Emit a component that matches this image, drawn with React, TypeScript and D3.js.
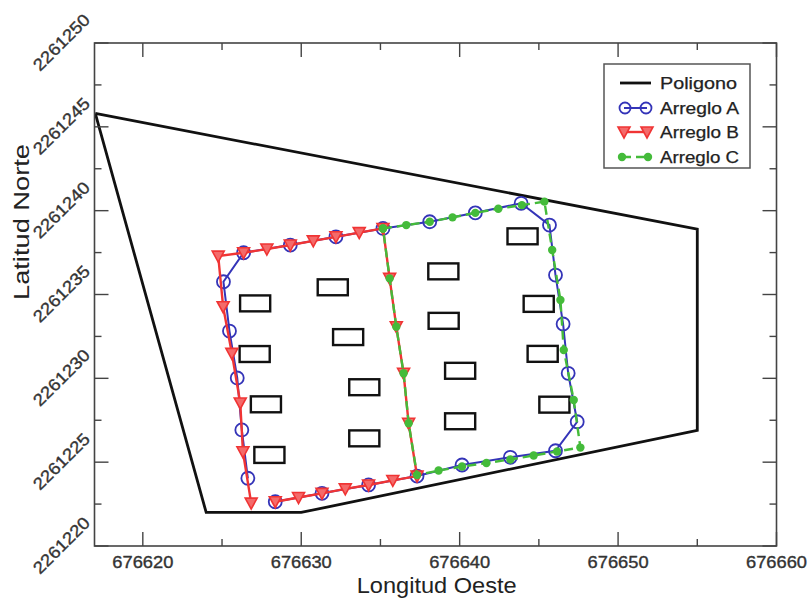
import React from "react";
import * as d3 from "d3";

const W = 809;
const H = 599;

const xDomain = [676616.95, 676660];
const yDomain = [2261220, 2261250];
const xMajorTicks = [676620, 676630, 676640, 676650, 676660];
const xMinorTicks = [676625, 676635, 676645, 676655];
const yMajorTicks = [2261220, 2261225, 2261230, 2261235, 2261240, 2261245, 2261250];
const yMinorTicks = [2261222.5, 2261227.5, 2261232.5, 2261237.5, 2261242.5, 2261247.5];

const polygonX = [676617, 676655, 676655, 676630, 676624, 676617];
const polygonY = [2261245.8, 2261238.9, 2261226.9, 2261222, 2261222, 2261245.8];

const buildingX = [
  676627.09, 676627.06, 676627.77, 676627.99,
  676631.99, 676632.96, 676633.98, 676633.98,
  676638.97, 676638.99, 676640.03, 676640.03,
  676643.97, 676644.99, 676645.24, 676645.98,
];
const buildingY = [
  2261234.47, 2261231.45, 2261228.45, 2261225.43,
  2261235.43, 2261232.46, 2261229.47, 2261226.42,
  2261236.38, 2261233.43, 2261230.45, 2261227.44,
  2261238.47, 2261234.44, 2261231.46, 2261228.43,
];
const buildingW = 1.9;
const buildingH = 0.95;

const arregloAX = [
  676628.36, 676631.31, 676634.25, 676637.31, 676640.15, 676643.2, 676646.05, 676647.42,
  676646.85, 676646.53, 676646.05, 676645.67, 676643.88, 676640.99, 676638.11, 676635.16,
  676632.19, 676629.31, 676626.36, 676625.09, 676625.47, 676625.96, 676626.25, 676626.63,
];
const arregloAY = [
  2261222.64, 2261223.14, 2261223.64, 2261224.17, 2261224.83, 2261225.29, 2261225.68, 2261227.41,
  2261230.3, 2261233.24, 2261236.16, 2261239.14, 2261240.44, 2261239.87, 2261239.34, 2261238.94,
  2261238.44, 2261237.95, 2261237.49, 2261235.76, 2261232.82, 2261230.02, 2261226.92, 2261224.04,
];

const arregloBX = [
  676626.84, 676626.32, 676626.15, 676625.62, 676625.07, 676624.76, 676626.36, 676627.83,
  676629.31, 676630.76, 676632.19, 676633.66, 676635.16, 676635.58, 676636.0, 676636.46,
  676636.78, 676637.31, 676635.78, 676634.25, 676632.78, 676631.31, 676629.83, 676628.36,
];
const arregloBY = [
  2261222.56, 2261225.62, 2261228.53, 2261231.49, 2261234.27, 2261237.29, 2261237.49, 2261237.71,
  2261237.95, 2261238.2, 2261238.44, 2261238.69, 2261238.94, 2261235.96, 2261233.08, 2261230.3,
  2261227.32, 2261224.17, 2261223.91, 2261223.64, 2261223.41, 2261223.14, 2261222.89, 2261222.64,
];

const arregloCX = [
  676635.16, 676636.63, 676638.11, 676639.55, 676640.99, 676642.44, 676643.93, 676645.35,
  676645.84, 676646.36, 676646.57, 676647.2, 676647.62, 676646.15, 676644.67, 676643.2,
  676641.69, 676640.15, 676638.67, 676637.31, 676636.78, 676636.46, 676636.0, 676635.58,
  676635.16,
];
const arregloCY = [
  2261238.94, 2261239.14, 2261239.34, 2261239.6, 2261239.87, 2261240.11, 2261240.33, 2261240.54,
  2261237.65, 2261234.67, 2261231.69, 2261228.71, 2261225.87, 2261225.64, 2261225.4, 2261225.16,
  2261224.95, 2261224.74, 2261224.5, 2261224.23, 2261227.32, 2261230.3, 2261233.08, 2261235.96,
  2261238.94,
];

const legendLabels = ["Poligono", "Arreglo A", "Arreglo B", "Arreglo C"];

const BLUE = "#3434b8";
const RED = "#f03434";
const GREEN = "#44bb3a";
const AXIS = "#444";
const TXT = "#333";
const FONT = "'Liberation Sans', Arial, Helvetica, sans-serif";

const zip = (xs: number[], ys: number[]): [number, number][] => xs.map((v, i) => [v, ys[i]]);

const tri = "M -6 -5 L 6 -5 L 0 6 Z";

export default function App() {
  const x = d3.scaleLinear().domain(xDomain).range([94.5, 776.5]);
  const y = d3.scaleLinear().domain(yDomain).range([546, 43]);
  const line = d3
    .line<[number, number]>()
    .x((d) => x(d[0]))
    .y((d) => y(d[1]));

  const left = x(xDomain[0]);
  const right = x(xDomain[1]);
  const top = y(yDomain[1]);
  const bottom = y(yDomain[0]);

  const polyPts = zip(polygonX, polygonY);
  const aPts = zip(arregloAX, arregloAY);
  const bPts = zip(arregloBX, arregloBY);
  const cPts = zip(arregloCX, arregloCY);

  const legendY = [83, 108, 132, 157];

  return (
    <div style={{ position: "fixed", left: 0, top: 0, width: W, height: H, background: "#fff" }}>
      <svg width={W} height={H} style={{ display: "block" }} fontFamily={FONT}>
        <rect x={0} y={0} width={W} height={H} fill="#fff" />
        <path d={line(polyPts) || ""} fill="none" stroke="#111" strokeWidth={2.8} strokeLinejoin="miter" />
        {buildingX.map((bx, i) => (
          <rect
            key={"b" + i}
            x={x(bx - buildingW / 2)}
            y={y(buildingY[i] + buildingH / 2)}
            width={x(bx + buildingW / 2) - x(bx - buildingW / 2)}
            height={y(buildingY[i] - buildingH / 2) - y(buildingY[i] + buildingH / 2)}
            fill="none"
            stroke="#111"
            strokeWidth={2.4}
          />
        ))}
        <path d={line(aPts) || ""} fill="none" stroke={BLUE} strokeWidth={2} />
        {aPts.map((p, i) => (
          <circle key={"a" + i} cx={x(p[0])} cy={y(p[1])} r={6.5} fill="none" stroke={BLUE} strokeWidth={1.8} />
        ))}
        <path d={line(bPts) || ""} fill="none" stroke={RED} strokeWidth={2.4} />
        {bPts.map((p, i) => (
          <path
            key={"bm" + i}
            d={tri}
            transform={`translate(${x(p[0])},${y(p[1])})`}
            fill="#f46a6a"
            stroke={RED}
            strokeWidth={1.6}
          />
        ))}
        <path d={line(cPts) || ""} fill="none" stroke={GREEN} strokeWidth={2.4} strokeDasharray="9 5" />
        {cPts.map((p, i) => (
          <circle key={"c" + i} cx={x(p[0])} cy={y(p[1])} r={4.2} fill={GREEN} />
        ))}

        <rect x={left} y={top} width={right - left} height={bottom - top} fill="none" stroke={AXIS} strokeWidth={1.6} />
        {xMajorTicks.map((t) => (
          <g key={"xt" + t}>
            <line x1={x(t)} x2={x(t)} y1={bottom} y2={bottom - 14} stroke={AXIS} strokeWidth={1.4} />
            <line x1={x(t)} x2={x(t)} y1={top} y2={top + 14} stroke={AXIS} strokeWidth={1.4} />
            <text
              x={x(t)}
              y={568}
              textAnchor="middle"
              fontSize={16.5}
              fill={TXT}
              stroke={TXT}
              strokeWidth={0.35}
              textLength={61}
              lengthAdjust="spacingAndGlyphs"
            >
              {t}
            </text>
          </g>
        ))}
        {xMinorTicks.map((t) => (
          <g key={"xm" + t}>
            <line x1={x(t)} x2={x(t)} y1={bottom} y2={bottom - 7} stroke={AXIS} strokeWidth={1.4} />
            <line x1={x(t)} x2={x(t)} y1={top} y2={top + 7} stroke={AXIS} strokeWidth={1.4} />
          </g>
        ))}
        {yMajorTicks.map((t) => (
          <g key={"yt" + t}>
            <line x1={left} x2={left + 14} y1={y(t)} y2={y(t)} stroke={AXIS} strokeWidth={1.4} />
            <line x1={right} x2={right - 14} y1={y(t)} y2={y(t)} stroke={AXIS} strokeWidth={1.4} />
            <text
              transform={`translate(91,${y(t) - 22}) rotate(-45)`}
              textAnchor="end"
              fontSize={17}
              fill={TXT}
              stroke={TXT}
              strokeWidth={0.35}
              textLength={72}
              lengthAdjust="spacingAndGlyphs"
            >
              {t}
            </text>
          </g>
        ))}
        {yMinorTicks.map((t) => (
          <g key={"ym" + t}>
            <line x1={left} x2={left + 7} y1={y(t)} y2={y(t)} stroke={AXIS} strokeWidth={1.4} />
            <line x1={right} x2={right - 7} y1={y(t)} y2={y(t)} stroke={AXIS} strokeWidth={1.4} />
          </g>
        ))}

        <text x={436.7} y={593} textAnchor="middle" fontSize={22} fill="#222" textLength={160} lengthAdjust="spacingAndGlyphs">
          Longitud Oeste
        </text>
        <text
          transform={`translate(29,222) rotate(-90)`}
          textAnchor="middle"
          fontSize={22}
          fill="#222"
          textLength={156}
          lengthAdjust="spacingAndGlyphs"
        >
          Latitud Norte
        </text>

        <g>
          <rect x={604} y={64} width={146} height={104} fill="#fff" stroke="#555" strokeWidth={1.5} />
          <line x1={620} x2={651} y1={legendY[0]} y2={legendY[0]} stroke="#111" strokeWidth={2.8} />
          <line x1={624} x2={647} y1={legendY[1]} y2={legendY[1]} stroke={BLUE} strokeWidth={2} />
          <circle cx={625} cy={legendY[1]} r={5.5} fill="none" stroke={BLUE} strokeWidth={1.8} />
          <circle cx={646} cy={legendY[1]} r={5.5} fill="none" stroke={BLUE} strokeWidth={1.8} />
          <line x1={624} x2={647} y1={legendY[2]} y2={legendY[2]} stroke={RED} strokeWidth={2.4} />
          <path d={tri} transform={`translate(624,${legendY[2]})`} fill="#f46a6a" stroke={RED} strokeWidth={1.6} />
          <path d={tri} transform={`translate(647,${legendY[2]})`} fill="#f46a6a" stroke={RED} strokeWidth={1.6} />
          <line x1={622} x2={648} y1={legendY[3]} y2={legendY[3]} stroke={GREEN} strokeWidth={2.4} strokeDasharray="9 5" />
          <circle cx={622} cy={legendY[3]} r={4.2} fill={GREEN} />
          <circle cx={648} cy={legendY[3]} r={4.2} fill={GREEN} />
          {legendLabels.map((l, i) => (
            <text
              key={l}
              x={660}
              y={legendY[i] + 6}
              fontSize={16.5}
              fill="#222"
              stroke="#222"
              strokeWidth={0.25}
              textLength={i === 0 ? 77 : 79}
              lengthAdjust="spacingAndGlyphs"
            >
              {l}
            </text>
          ))}
        </g>
      </svg>
    </div>
  );
}
